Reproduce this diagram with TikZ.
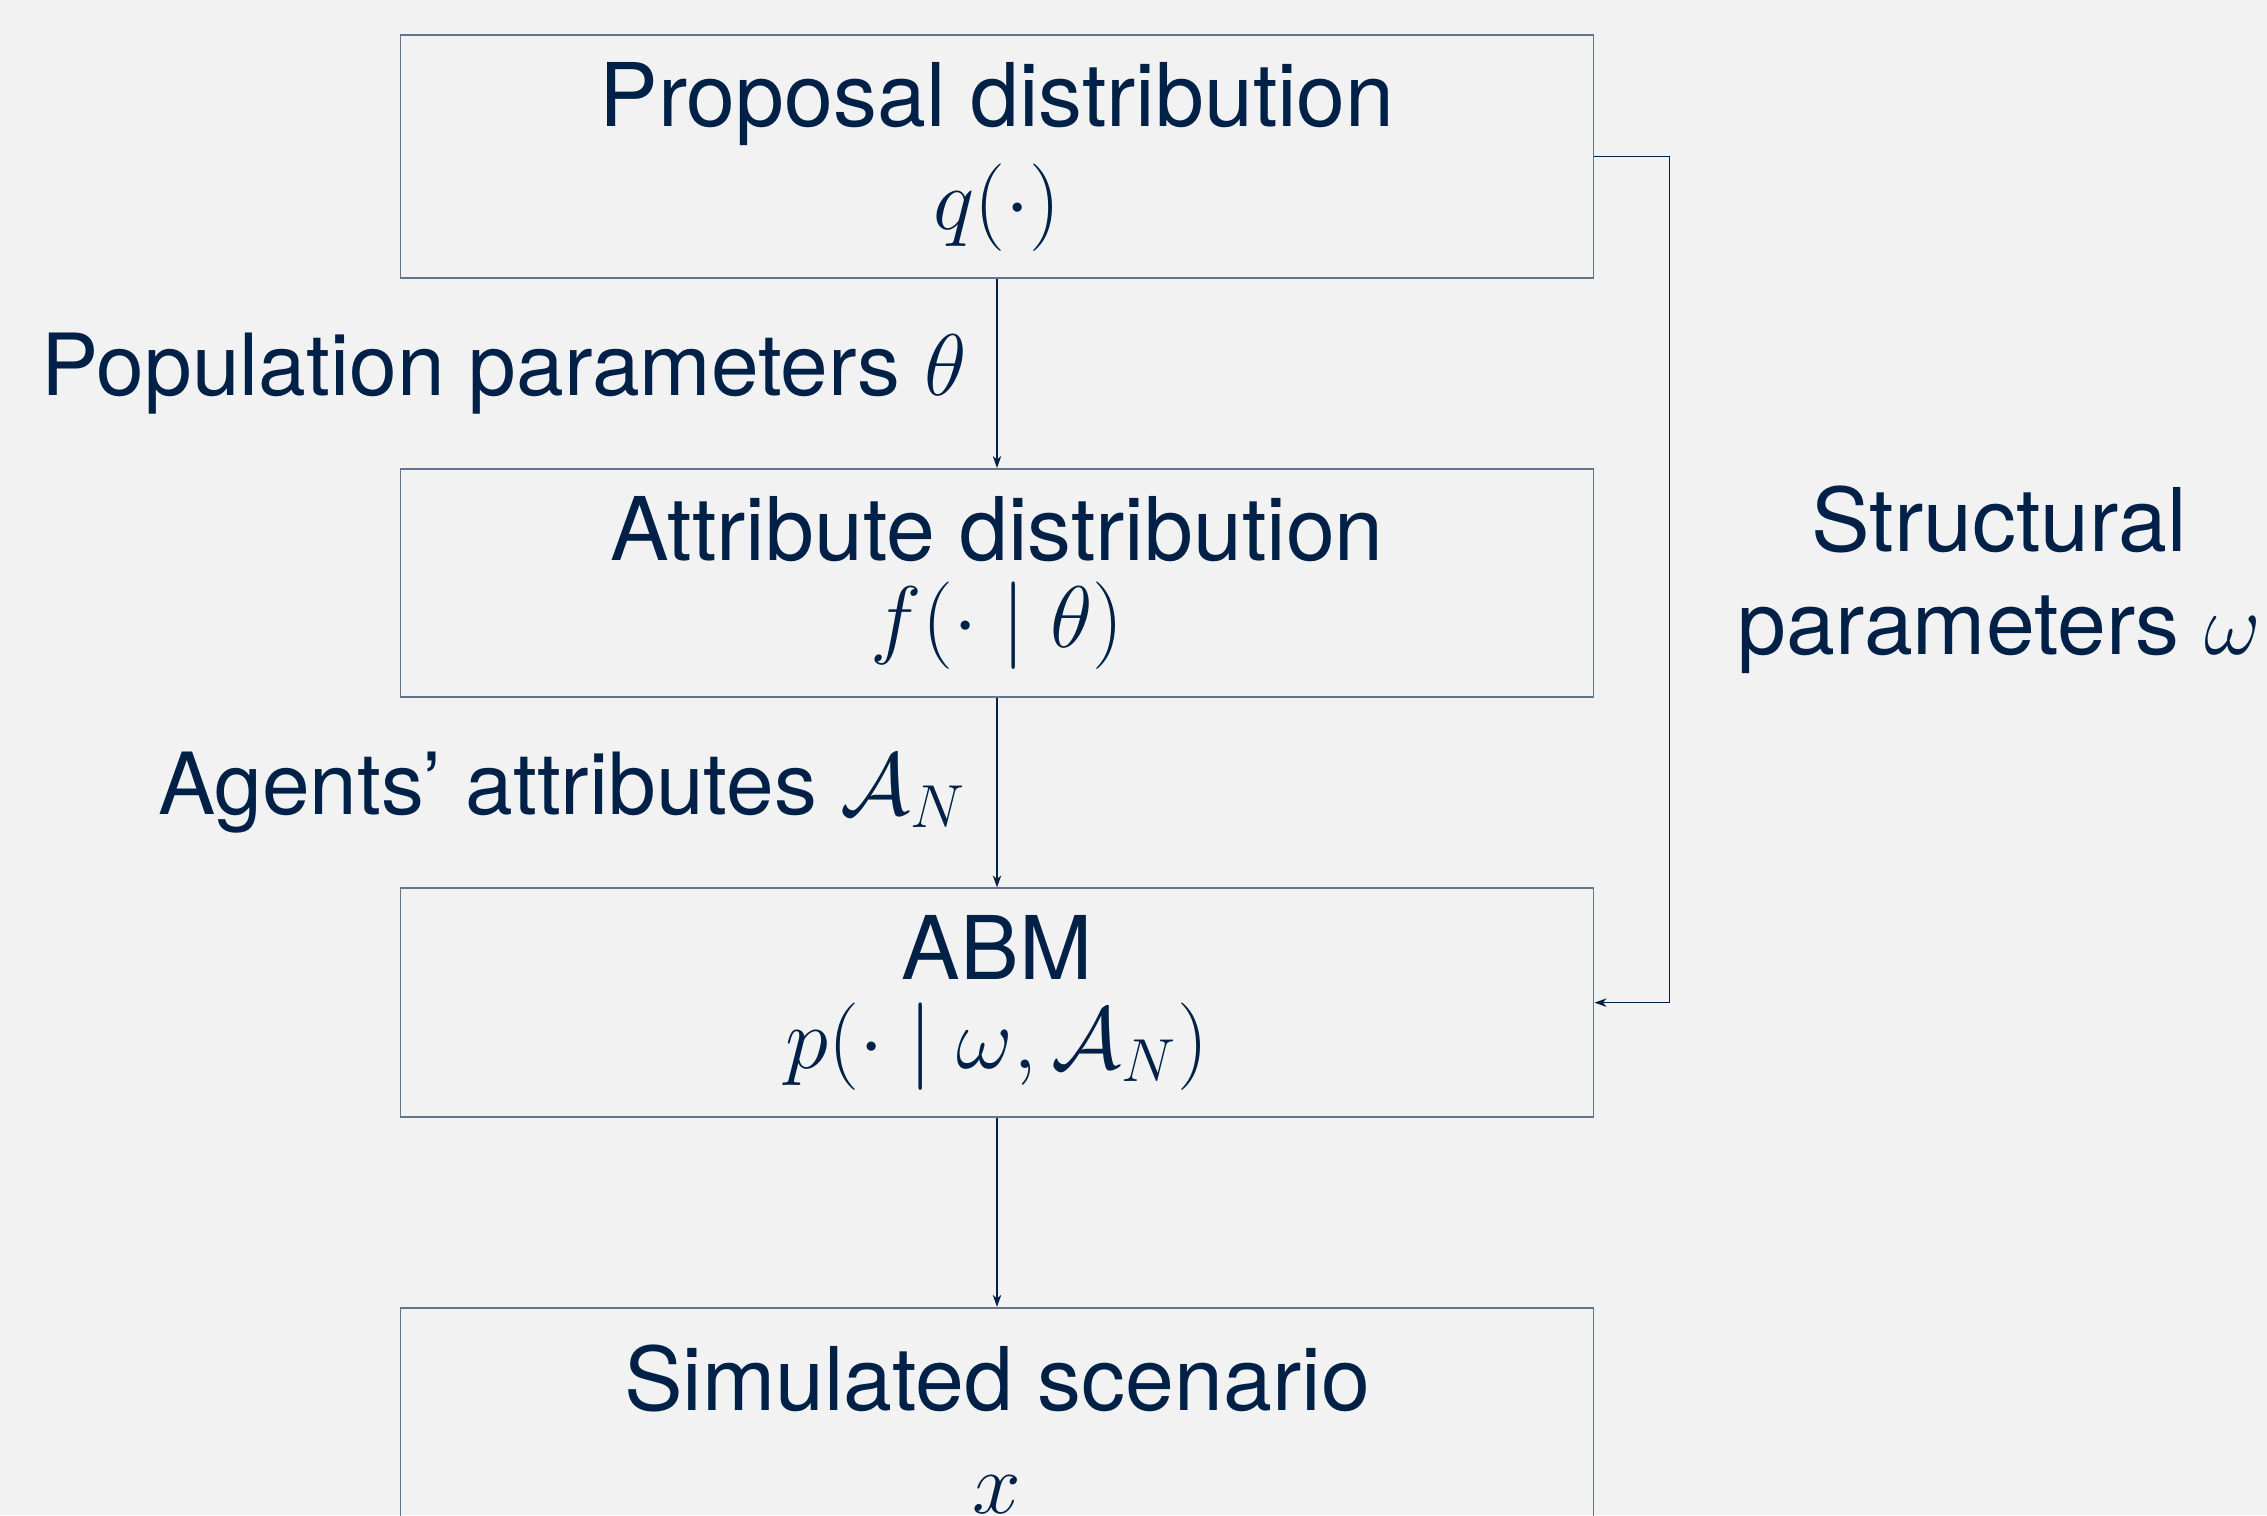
\documentclass[tikz,border=0pt]{standalone}
\usepackage{amsmath}
\usepackage{amssymb}
\usepackage[no-math]{fontspec}
\setmainfont{TeX Gyre Heros}
\usepackage{tikz}
\usetikzlibrary{positioning,arrows.meta}
\definecolor{oxford}{HTML}{002147}
\definecolor{slide}{HTML}{F2F2F2}
\colorlet{boxline}{oxford!62!white}
\newcommand{\boxWidth}[0]{11.93cm}
\newcommand{\gapSize}[0]{1.89cm}

\begin{document}
\begin{tikzpicture}
  \tikzset{every node/.style={font=\fontsize{25}{29.3}\selectfont, text=oxford},
    stage/.style={draw=boxline, line width=0.55pt, minimum width=\boxWidth, align=center, inner sep=0pt},
    edgelabel/.style={font=\fontsize{24.4}{29}\selectfont, inner sep=0.3cm},
    link/.style={draw=oxford, line width=0.4pt, -{Stealth[length=3.4pt, width=2.4pt, inset=1pt]}}}
  \useasboundingbox (0,0) rectangle (22.67,-15.15);
  \fill[slide] (0,0) rectangle (22.67,-15.15);
  \clip (0,0) rectangle (22.67,-15.15);
  % the four stages
  \node[stage, minimum height=2.43cm] (proposal) at (9.97,-1.565) {Proposal distribution\\$q(\cdot)$};
  \node[stage, minimum height=2.285cm, below=\gapSize of proposal] (attribute) {Attribute distribution\\[-4.5pt]$f(\cdot \mid \theta)$};
  \node[stage, minimum height=2.285cm, below=\gapSize of attribute] (abm) {ABM\\[-4pt]$p(\cdot \mid \omega, \mathcal{A}_N)$};
  \node[stage, minimum height=2.43cm, below=\gapSize of abm] (scenario) {Simulated scenario\\$x$};
  % connectors
  \draw[link] (proposal) -- node[edgelabel, left] (popparams) {Population parameters $\theta$} (attribute);
  \draw[link] (attribute) -- node[edgelabel, left] (agentattrs) {Agents' attributes $\mathcal{A}_N$} (abm);
  \draw[link] (abm) -- (scenario);
  \draw[link] (proposal.east) -- ++(0.75,0) coordinate (bend) |- (abm.east);
  \node[align=center] (structparams) at (19.99,-5.795) {Structural\\parameters $\omega$};
\end{tikzpicture}
\end{document}
